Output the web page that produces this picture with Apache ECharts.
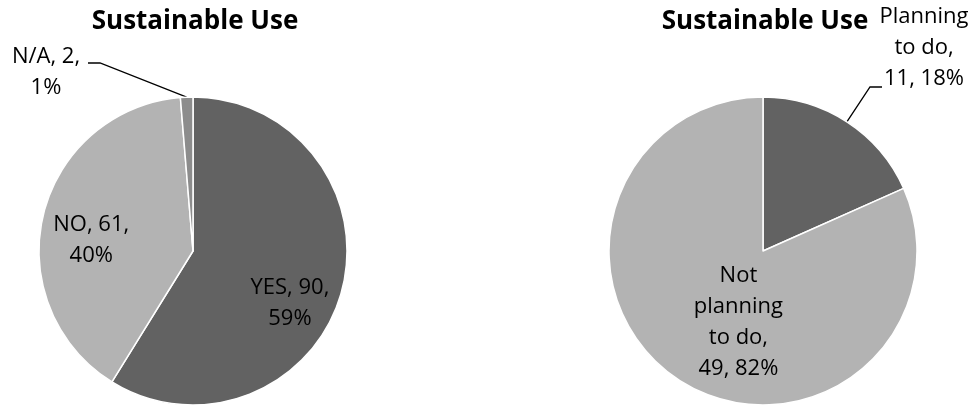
<!DOCTYPE html>
<html>
<head>
<meta charset="utf-8">
<script src="https://cdn.jsdelivr.net/npm/echarts@6/dist/echarts.min.js"></script>
<style>
  html, body { margin: 0; padding: 0; background: #fff; }
  #main { width: 973px; height: 405px; }
</style>
</head>
<body>
<div id="main"></div>
<script>
// data
var leftNames = ['YES', 'NO', 'N/A'];
var leftValues = [90, 61, 2];
var leftColors = ['#626262', '#b3b3b3', '#8c8c8c'];

var rightNames = ['Planning to do', 'Not planning to do'];
var rightLabelNames = ['Planning\nto do', 'Not\nplanning\nto do'];
var rightValues = [11, 49];
var rightColors = ['#626262', '#b3b3b3'];

var titleText = 'Sustainable Use';

var chartDom = document.getElementById('main');
var myChart = echarts.init(chartDom);

var fontFamily = '"Open Sans", "Noto Sans", sans-serif';
var R = 154;
var leftCenter = [193, 251];
var rightCenter = [763, 251];

// label shifts for inside labels, and placement for outside ones
var leftShift = [[20, 30], [-24, 8], null];
var rightShift = [null, [19, 4]];

function buildData(names, values, colors) {
    return names.map(function (n, i) {
        return { name: n, value: values[i], itemStyle: { color: colors[i] } };
    });
}

var leftData = buildData(leftNames, leftValues, leftColors);
leftData[2].label = { position: 'outside' };
leftData[2].labelLine = { show: true };

var rightData = buildData(rightNames, rightValues, rightColors);
rightData[0].label = { position: 'outside' };
rightData[0].labelLine = { show: true };

var labelStyle = {
    position: 'inside',
    color: '#000',
    fontFamily: fontFamily,
    fontSize: 22,
    lineHeight: 31,
    align: 'center'
};

function outsideLayout(params, center, labelPos, elbow, end) {
    var pts = params.labelLinePoints;
    var p0 = pts ? pts[0] : [center[0], center[1] - R];
    return {
        x: center[0] + labelPos[0],
        y: center[1] + labelPos[1],
        align: 'center',
        verticalAlign: 'middle',
        labelLinePoints: [p0,
            [center[0] + elbow[0], center[1] + elbow[1]],
            [center[0] + end[0], center[1] + end[1]]]
    };
}

var option = {
    backgroundColor: '#fff',
    animation: false,
    title: [{
        text: titleText,
        left: 190,
        top: 4,
        textAlign: 'center',
        textStyle: { fontFamily: fontFamily, fontSize: 26, fontWeight: 'bold', color: '#000' }
    }, {
        text: titleText,
        left: 760,
        top: 4,
        textAlign: 'center',
        textStyle: { fontFamily: fontFamily, fontSize: 26, fontWeight: 'bold', color: '#000' }
    }],
    series: [{
        type: 'pie',
        center: leftCenter,
        radius: R,
        startAngle: 90,
        clockwise: true,
        avoidLabelOverlap: false,
        percentPrecision: 0,
        itemStyle: { borderColor: '#fff', borderWidth: 1.5 },
        label: Object.assign({}, labelStyle, {
            formatter: function (p) { return p.name + ', ' + p.value + ',\n' + p.percent + '%'; }
        }),
        labelLine: { show: false, length: 20, length2: 12, lineStyle: { color: '#000', width: 1.3 } },
        emphasis: { disabled: true },
        labelLayout: function (params) {
            var i = params.dataIndex;
            if (leftShift[i]) return { dx: leftShift[i][0], dy: leftShift[i][1] };
            return outsideLayout(params, leftCenter, [-147, -179], [-93, -188], [-105, -188]);
        },
        data: leftData
    }, {
        type: 'pie',
        center: rightCenter,
        radius: R,
        startAngle: 90,
        clockwise: true,
        avoidLabelOverlap: false,
        percentPrecision: 0,
        itemStyle: { borderColor: '#fff', borderWidth: 1.5 },
        label: Object.assign({}, labelStyle, {
            formatter: function (p) { return rightLabelNames[p.dataIndex] + ',\n' + p.value + ', ' + p.percent + '%'; }
        }),
        labelLine: { show: false, length: 20, length2: 12, lineStyle: { color: '#000', width: 1.3 } },
        emphasis: { disabled: true },
        labelLayout: function (params) {
            var i = params.dataIndex;
            if (rightShift[i]) return { dx: rightShift[i][0], dy: rightShift[i][1] };
            return outsideLayout(params, rightCenter, [161, -203], [107, -164], [119, -164]);
        },
        data: rightData
    }]
};

myChart.setOption(option);

window.addEventListener('resize', function () {
    myChart.resize();
});
</script>
</body>
</html>
